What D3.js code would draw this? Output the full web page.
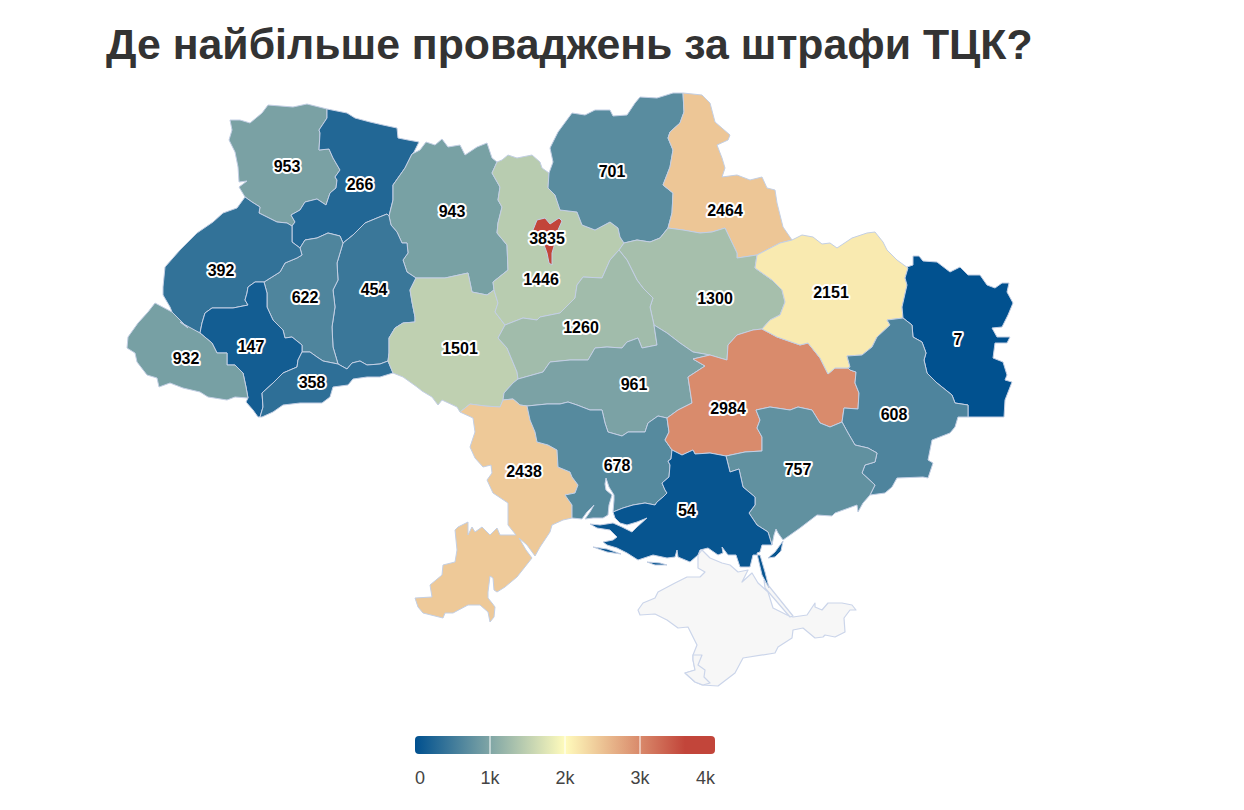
<!DOCTYPE html>
<html>
<head>
<meta charset="utf-8">
<script src="https://cdn.jsdelivr.net/npm/d3@7"></script>
<style>
    body { margin: 0; background: #fff; }
    svg { display: block; font-family: "Liberation Sans", Arial, sans-serif; }
</style>
</head>
<body>
<div id="svgWrapper"></div>
<script>
// Cases per oblast, same order as regionRings and labelPoints
const regionNames = ['Volyn', 'Rivne', 'Zhytomyr', 'Khmelnytskyi', 'Ternopil', 'Lviv', 'Ivano-Frankivsk', 'Chernivtsi', 'Zakarpattia',
    'Vinnytsia', 'Kyiv oblast', 'Chernihiv', 'Sumy', 'Poltava', 'Cherkasy', 'Kirovohrad', 'Odesa', 'Mykolaiv', 'Dnipropetrovsk',
    'Kharkiv', 'Luhansk', 'Donetsk', 'Zaporizhzhia', 'Kherson', 'Kyiv'];
const regionValues = [953, 266, 943, 454, 622, 392, 147, 358, 932,
    1501, 1446, 701, 2464, 1300, 1260, 961, 2438, 678, 2984,
    2151, 7, 608, 757, 54, 3835];

// Label anchors in map units
const labelPoints = [[287, 166], [360, 184], [452, 211], [374, 289], [305, 297], [221, 270], [251, 346], [312, 382], [186, 358],
    [460, 348], [541, 279], [612, 171], [725, 210], [715, 298], [581, 327], [634, 384], [524, 471], [617, 465], [728, 408],
    [831, 292], [958, 339], [894, 414], [798, 469], [687, 510], [547, 238]];

// Outlines traced by hand. Shared borders are kept once, like a small topojson
const borders = {
    volOuter: '327,109 307,104 293,107 268,105 262,113 250,123 240,120 230,120 232,130 229,140 235,152 238,167 239,182 247,181 239,187 245,197',
    volLvi: '245,197 252,202 260,207 259,213 267,217 277,222 287,223 292,226',
    volRiv: '292,226 295,222 291,215 300,210 305,202 317,199 326,205 330,193 336,188 337,180 335,177 340,170 333,158 329,149 319,150 320,133 319,130 327,118 327,109',
    rivOuter: '327,109 347,113 355,118 370,122 383,125 397,128 398,138 408,140 419,142 414,152 412,154',
    rivZhy: '412,154 405,168 393,185 393,200 390,212 389,216',
    rivKhm: '343,243 353,235 365,223 377,218 387,214 389,216',
    rivTer: '300,248 305,240 317,238 328,233 340,236 343,243',
    lviRiv: '292,226 292,242 300,248',
    zhyTop: '412,154 420,150 426,142 435,145 442,139 448,147 460,145 465,155 477,147 487,143 492,158 497,162',
    zhyKyi: '497,162 492,173 500,187 498,200 502,207 498,223 497,233 507,245 508,270 493,282 494,290',
    zhyVin: '494,290 487,295 472,292 468,273 445,278 416,278',
    khmZhy: '389,216 391,225 397,232 402,243 407,243 408,253 403,260 407,272 416,278',
    khmVin: '416,278 410,290 412,302 415,317 415,322 403,323 395,328 389,338 389,353 388,361',
    cheKhm: '338,364 347,369 352,363 360,361 367,365 380,364 388,361',
    terKhm: '343,243 340,253 337,263 338,280 333,290 335,307 332,327 333,347 338,364',
    cheTer: '302,352 310,352 317,357 323,361 338,364',
    terIva: '264,282 267,293 267,307 273,320 283,330 285,338 292,337 302,345 302,352',
    lviTer: '300,248 302,255 297,258 285,263 280,272 264,282',
    lviIva: '264,282 255,282 248,287 247,293 245,300 248,305 233,308 212,308 205,313 202,323 200,333',
    lviZak: '200,333 188,328 180,322 172,312',
    lviOuter: '172,312 170,307 163,295 163,287 165,267 180,250 197,233 213,222 223,213 237,208 245,197',
    ivaZak: '200,333 212,343 217,353 227,353 227,365 235,365 243,373 246,387 248,398',
    ivaOuter: '248,398 246,402 253,410 258,417 260,417',
    cheIva: '260,417 263,407 262,393 273,383 283,373 297,367 298,360 302,352',
    cheVin: '388,361 393,373',
    cheOuter: '393,373 380,377 367,377 353,379 348,385 333,387 330,397 322,403 300,403 283,405 273,412 262,417 260,417',
    zakOuter: '172,312 155,303 148,312 138,323 128,337 127,348 135,353 137,362 147,375 157,378 159,387 170,383 183,388 200,392 208,397 227,400 235,397 248,398',
    vinKyi: '494,290 498,303 495,312 505,325',
    vinChe: '505,325 498,338 507,348 517,372 518,379',
    vinKir: '518,379 513,383 504,393 503,400',
    vinOde: '460,412 470,404 485,406 500,407 503,400',
    vinOuter: '393,373 403,377 417,387 422,391 432,397 438,405 442,400 457,407 460,412',
    kyiNorth: '497,162 502,160 508,155 517,158 532,155 540,162 542,168 549,173',
    kyiChn: '549,173 548,188 555,195 560,210 577,212 582,225 595,230 610,222 618,228 620,237 624,243',
    kyiPol: '624,243 619,250',
    kyiChe: '505,325 523,318 537,320 540,317 560,313 575,298 577,285 583,277 602,278 610,260 619,250',
    chnOuter: '549,173 553,162 550,148 558,132 572,113 585,115 595,110 610,110 613,116 627,115 635,103 640,97 657,98 673,93 683,93',
    chnSum: '683,93 684,112 680,123 670,132 668,138 673,150 670,167 663,185 673,193 672,213 668,228',
    chnPol: '668,228 660,238 650,242 637,240 624,243',
    sumOuter: '683,93 702,95 710,103 715,122 730,135 728,140 717,145 722,158 725,168 722,177 737,175 750,180 762,177 767,188 775,190 777,203 783,227 792,240',
    sumKha: '792,240 780,243 757,255',
    sumPol: '757,255 737,258 737,253 725,228 712,232 700,233 683,230 668,228',
    khaPol: '762,329 770,320 780,315 785,302 782,290 772,280 755,268 757,255',
    dniPol: '762,329 753,330 737,335 728,345 727,360 720,358 710,355',
    kirPol: '654,325 667,333 680,343 693,352 710,355',
    chePol: '619,250 627,260 637,280 643,288 653,298 650,307 654,325',
    cheKir: '654,325 657,345 642,348 638,338 627,342 622,348 607,347 595,348 588,360 570,360 550,362 543,372 518,379',
    kirOde: '503,400 513,399 520,405 527,406',
    kirMyk: '527,406 547,404 560,404 568,402 577,405 590,410 602,410 605,423 608,432 622,436 628,432 645,432 648,423 658,416 667,418',
    dniKir: '710,355 693,359 705,366 688,377 690,390 692,403 678,410 667,418',
    odeMyk: '527,406 530,420 535,432 537,442 548,445 557,450 558,467 570,472 572,477 578,485 575,493 565,495 572,505 572,518',
    odeOuter: '572,518 563,520 552,525 550,532 540,547 535,556 527,545 519,538 526,550 532,558 517,577 505,587 497,592 494,590 493,578 490,576 488,592 488,598 492,603 495,607 494,617 490,622 488,612 480,605 468,605 453,613 445,613 443,618 423,613 418,607 415,598 432,597 430,585 442,575 443,565 455,562 457,550 455,530 458,527 468,522 468,535 472,527 475,532 482,527 490,535 497,528 500,535 516,535 508,525 508,503 493,493 487,480 492,473 491,465 483,467 475,458 470,447 475,432 473,418 460,412',
    mykDni: '667,418 669,432 665,440 672,450',
    mykKhe: '672,450 671,459 668,461 670,465 669,477 662,483 665,490 667,493 663,497 657,502 655,505 645,503 633,505 623,508 613,512',
    mykCoast: '613,512 614,500 614,495 609,487 606,478 605,484 606,490 612,495 609,505 608,515 603,518 593,518 585,519 590,512 594,505 587,512 582,519 572,518',
    dniKha: '762,329 777,337 800,345 808,343 812,348 820,358 828,374 835,368 848,368',
    dniDon: '842,422 844,408 858,409 859,393 855,383 856,372 850,370 848,368',
    dniZap: '726,456 745,452 762,451 762,437 757,428 760,420 756,410 770,407 790,410 798,407 812,410 820,423 830,427 842,422',
    dniKhe: '672,450 682,455 693,450 695,454 710,453 726,456',
    khaTop: '792,240 802,235 813,237 822,244 830,243 837,248 852,238 867,233 875,232 883,242 887,250 897,260 908,268',
    khaLug: '908,268 905,278 907,285 902,307 903,318',
    khaDon: '903,318 887,320 890,325 877,337 872,347 862,355 847,356 850,367 848,368',
    lugOuter: '908,268 907,267 913,265 913,256 919,256 923,261 937,262 950,272 960,267 968,275 980,275 987,285 995,288 1002,283 1009,283 1007,292 1013,303 1008,315 1002,327 992,328 997,337 1010,337 1007,343 995,343 993,358 1003,362 1007,375 1005,380 1012,382 1005,400 1004,417 983,417 968,417',
    lugDon: '968,417 968,405 955,403 952,395 937,383 927,373 924,360 926,353 922,342 913,337 912,325 903,318',
    donOuter: '968,417 958,417 955,427 950,433 932,440 928,460 933,463 928,478 923,477 897,478 892,487 885,493 870,495',
    donZap: '842,422 848,433 855,445 868,448 877,453 875,462 865,465 862,473 875,485 870,495',
    zapKhe: '726,456 730,472 739,469 743,487 755,497 755,505 749,513 757,525 768,532 772,545',
    zapCoast: '870,495 863,503 858,512 857,505 835,513 832,516 817,515 800,528 783,540 778,533 776,529 774,535 772,545',
    kheCoast: '772,545 762,545 760,552 757,553 758,558 762,575 769,588 765,572 760,555 753,555 750,567 740,567 736,555 728,555 722,547 723,553 718,555 708,548 700,550 698,555 690,562 678,557 677,550 675,557 667,558 653,555 638,560 627,553 617,548 607,545 603,542 613,540 617,537 610,530 597,528 590,524 600,525 613,523 622,527 632,532 637,527 647,518 637,522 627,525 620,523 615,518 613,512',
    kyivCity: '533,230 537,220 545,218 550,224 559,218 562,221 558,230 555,243 552,253 552,265 549,263 547,253 543,242 533,238 533,230'
};

// Each ring is a chain of borders, a leading minus means walk it backwards
const regionRings = [
    ['volOuter', 'volLvi', 'volRiv'],
    ['rivOuter', 'rivZhy', '-rivKhm', '-rivTer', '-lviRiv', 'volRiv'],
    ['zhyTop', 'zhyKyi', 'zhyVin', '-khmZhy', '-rivZhy'],
    ['rivKhm', 'khmZhy', 'khmVin', '-cheKhm', '-terKhm'],
    ['rivTer', 'terKhm', '-cheTer', '-terIva', '-lviTer'],
    ['volLvi', 'lviRiv', 'lviTer', 'lviIva', 'lviZak', 'lviOuter'],
    ['lviIva', 'ivaZak', 'ivaOuter', 'cheIva', '-terIva'],
    ['cheTer', 'cheKhm', 'cheVin', 'cheOuter', 'cheIva'],
    ['zakOuter', '-ivaZak', '-lviZak'],
    ['-zhyVin', 'vinKyi', 'vinChe', 'vinKir', '-vinOde', '-vinOuter', '-cheVin', '-khmVin'],
    ['kyiNorth', 'kyiChn', 'kyiPol', '-kyiChe', '-vinKyi', '-zhyKyi'],
    ['chnOuter', 'chnSum', 'chnPol', '-kyiChn'],
    ['sumOuter', 'sumKha', 'sumPol', '-chnSum'],
    ['-chnPol', '-sumPol', '-khaPol', 'dniPol', '-kirPol', '-chePol', '-kyiPol'],
    ['kyiChe', 'chePol', 'cheKir', '-vinChe'],
    ['vinKir', 'kirOde', 'kirMyk', '-dniKir', '-kirPol', 'cheKir'],
    ['vinOde', 'kirOde', 'odeMyk', 'odeOuter'],
    ['kirMyk', 'mykDni', 'mykKhe', 'mykCoast', '-odeMyk'],
    ['-dniKir', '-dniPol', 'dniKha', '-dniDon', '-dniZap', '-dniKhe', '-mykDni'],
    ['khaTop', 'khaLug', 'khaDon', '-dniKha', 'khaPol', '-sumKha'],
    ['lugOuter', 'lugDon', '-khaLug'],
    ['khaDon', '-dniDon', 'donZap', '-donOuter', 'lugDon'],
    ['dniZap', 'donZap', 'zapCoast', '-zapKhe'],
    ['dniKhe', 'zapKhe', 'kheCoast', '-mykKhe'],
    ['kyivCity']
];

// Small Kherson islands and the bit of sea coast next to Zaporizhzhia
const khersonIslands = [
    '593,547 607,549 621,554 607,552 593,547',
    '647,562 660,563 667,565 655,565 647,562',
    '768,558 775,552 783,541 781,551 775,557 768,558'
];

// Crimea has no value, it is only drawn in grey
const crimeaOutline = '698,555 698,568 705,572 700,577 687,577 675,583 658,592 655,598 643,603 638,610 640,615 655,614 667,620 678,628 688,627 697,645 693,655 693,660 695,670 685,673 695,682 702,685 718,686 735,673 743,658 775,653 778,647 792,638 793,630 803,628 815,638 823,637 825,635 835,637 845,632 844,618 850,610 856,610 852,605 842,603 828,603 822,610 815,607 815,603 807,615 793,617 787,615 773,608 768,592 758,583 752,573 742,582 748,570 738,572 730,565 722,563 710,558 702,550 698,555';
const sevastopolOutline = '693,655 702,655 698,665 705,670 704,677 710,683 703,685 695,682 685,673 695,670 693,660 693,655';
const arabatOutline = '764,580 793,616 790,617 765,588 764,580';

const colorDomain = [0, 2000, 3600, 4000];
const colorRange = ['#00508f', '#fffbbc', '#c2453a', '#c2453a'];
const legendTicks = [0, 1000, 2000, 3000, 4000];
const legendLabels = ['0', '1k', '2k', '3k', '4k'];

const w = 1244;
const h = 810;

const parsePoints = (s) => s.split(' ').map((p) => p.split(',').map(Number));

function ringCoords(names) {
    let coords = [];
    names.forEach((name) => {
        const pts = name[0] === '-' ? parsePoints(borders[name.slice(1)]).reverse() : parsePoints(borders[name]);
        coords = coords.concat(coords.length ? pts.slice(1) : pts);
    });
    return coords;
}

const regionFeatures = regionNames.map((name, i) => {
    const polygons = [[ringCoords(regionRings[i])]];
    if (name === 'Kherson') {
        khersonIslands.forEach((s) => polygons.push([parsePoints(s)]));
    }
    return {
        type: 'Feature',
        properties: { name: name, value: regionValues[i], label: labelPoints[i] },
        geometry: { type: 'MultiPolygon', coordinates: polygons }
    };
});

const crimeaFeatures = [crimeaOutline, arabatOutline, sevastopolOutline].map((s) => ({
    type: 'Feature',
    geometry: { type: 'Polygon', coordinates: [parsePoints(s)] }
}));

const projection = d3.geoIdentity();
const path = d3.geoPath(projection);

const colorScale = d3.scaleLinear()
    .domain(colorDomain)
    .range(colorRange)
    .interpolate(d3.interpolateRgb);

const svg = d3.select('#svgWrapper')
    .append('svg')
    .attr('width', w)
    .attr('height', h)
    .attr('viewBox', '0 0 ' + w + ' ' + h);

svg.append('text') // Title
    .attr('x', 106)
    .attr('y', 59)
    .attr('fill', '#333333')
    .style('font-size', '42.8px')
    .style('font-weight', 'bold')
    .text('Де найбільше проваджень за штрафи ТЦК?');

svg.append('g') // Crimea
    .selectAll('path')
    .data(crimeaFeatures)
    .enter()
    .append('path')
    .attr('d', path)
    .attr('fill', '#f7f7f7')
    .attr('stroke', '#cbd5ea')
    .attr('stroke-width', 1.2)
    .attr('stroke-linejoin', 'round');

svg.append('g') // Regions
    .selectAll('path')
    .data(regionFeatures)
    .enter()
    .append('path')
    .attr('d', path)
    .attr('fill', (d) => colorScale(d.properties.value))
    .attr('stroke', '#c3cfe4')
    .attr('stroke-width', 1)
    .attr('stroke-linejoin', 'round');

svg.append('g') // Value labels
    .selectAll('text')
    .data(regionFeatures)
    .enter()
    .append('text')
    .attr('x', (d) => projection(d.properties.label)[0])
    .attr('y', (d) => projection(d.properties.label)[1])
    .attr('dy', '0.36em')
    .attr('text-anchor', 'middle')
    .attr('fill', '#000')
    .attr('stroke', '#fff')
    .attr('stroke-width', 4)
    .attr('stroke-linejoin', 'round')
    .attr('paint-order', 'stroke')
    .style('font-size', '16px')
    .style('font-weight', 'bold')
    .text((d) => d.properties.value);

// Legend
const legendScale = d3.scaleLinear()
    .domain([legendTicks[0], legendTicks[legendTicks.length - 1]])
    .range([415, 715]);

const gradient = svg.append('defs')
    .append('linearGradient')
    .attr('id', 'legendGradient');

gradient.selectAll('stop')
    .data(colorDomain)
    .enter()
    .append('stop')
    .attr('offset', (d) => d / 4000)
    .attr('stop-color', (d) => colorScale(d));

svg.append('rect')
    .attr('x', legendScale(0))
    .attr('y', 736)
    .attr('width', legendScale(4000) - legendScale(0))
    .attr('height', 18)
    .attr('rx', 4)
    .attr('fill', 'url(#legendGradient)');

svg.selectAll('.legendTick')
    .data(legendTicks.slice(1, -1))
    .enter()
    .append('line')
    .attr('class', 'legendTick')
    .attr('x1', (d) => legendScale(d))
    .attr('x2', (d) => legendScale(d))
    .attr('y1', 736)
    .attr('y2', 754)
    .attr('stroke', '#fff')
    .attr('stroke-width', 1);

svg.selectAll('.legendLabel')
    .data(legendTicks)
    .enter()
    .append('text')
    .attr('class', 'legendLabel')
    .attr('x', (d) => legendScale(d))
    .attr('y', 784)
    .attr('text-anchor', (d, i) => i === 0 ? 'start' : (i === legendTicks.length - 1 ? 'end' : 'middle'))
    .attr('fill', '#444444')
    .style('font-size', '18px')
    .text((d, i) => legendLabels[i]);
</script>
</body>
</html>
